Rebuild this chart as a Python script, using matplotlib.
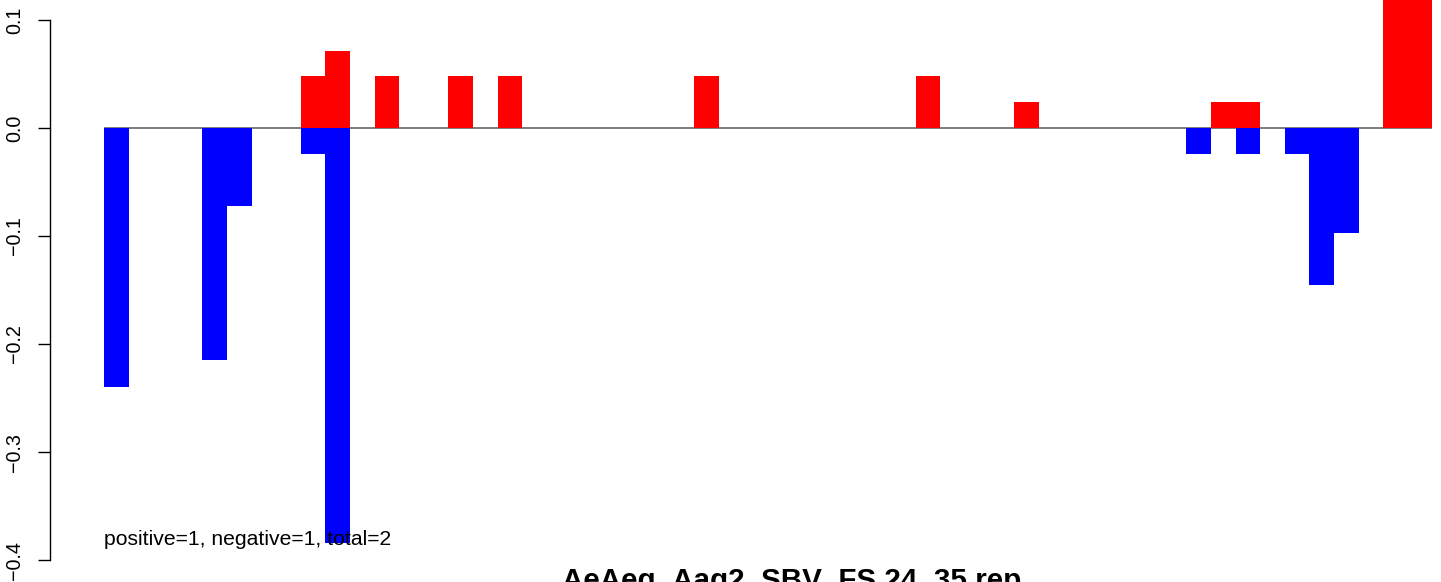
import matplotlib
matplotlib.use("Agg")
import matplotlib.pyplot as plt

plt.rcParams['font.family'] = ['Liberation Sans', 'DejaVu Sans']

# one entry per bar, left to right (bar width 1, no gaps)
pos_vals = [0, 0, 0, 0, 0, 0, 0, 0, 0.048, 0.071,
            0, 0.048, 0, 0, 0.048, 0, 0.048, 0, 0, 0,
            0, 0, 0, 0, 0.048, 0, 0, 0, 0, 0,
            0, 0, 0, 0.048, 0, 0, 0, 0.024, 0, 0,
            0, 0, 0, 0, 0, 0.024, 0.024, 0, 0, 0,
            0, 0, 0.15, 0.15]
neg_vals = [-0.240, 0, 0, 0, -0.215, -0.072, 0, 0, -0.024, -0.384,
            0, 0, 0, 0, 0, 0, 0, 0, 0, 0,
            0, 0, 0, 0, 0, 0, 0, 0, 0, 0,
            0, 0, 0, 0, 0, 0, 0, 0, 0, 0,
            0, 0, 0, 0, -0.024, 0, -0.024, 0, -0.024, -0.145,
            -0.097, 0, 0, 0]
y_ticks = [0.1, 0.0, -0.1, -0.2, -0.3, -0.4]
y_ticklabels = ["0.1", "0.0", "\u22120.1", "\u22120.2", "\u22120.3", "\u22120.4"]
title = "AeAeg_Aag2_SBV_FS 24_35 rep"
note = "positive=1, negative=1, total=2"

n = len(pos_vals)
xs = list(range(n))

fig = plt.figure(figsize=(14.41, 5.82), dpi=100)
ax = fig.add_axes([0, 0, 1, 1])
ax.set_xlim(-104 / 24.6, (1441 - 104) / 24.6)
ax.set_ylim(-454 / 1080, 128 / 1080)

ax.hlines(0, 0, n, color='#666666', lw=1.2, zorder=1)
ax.bar(xs, pos_vals, width=1, align='edge', color='red', lw=0, zorder=2)
ax.bar(xs, neg_vals, width=1, align='edge', color='blue', lw=0, zorder=2)

ax.text(0, -0.386, note, fontsize=15.2, va='baseline', ha='left', zorder=3)

for s in ['top', 'right', 'bottom']:
    ax.spines[s].set_visible(False)
ax.spines['left'].set_position(('data', (50 - 104) / 24.6))
ax.spines['left'].set_bounds(-0.4, 0.1)
ax.spines['left'].set_linewidth(1.0)
ax.set_xticks([])
ax.set_yticks(y_ticks)
ax.set_yticklabels(y_ticklabels, rotation=90, va='center', fontsize=14.2)
ax.tick_params(axis='y', length=8.6, width=1.0, pad=10)

fig.text(792 / 1441, (582 - 589) / 582, title, fontsize=21.3, fontweight='bold',
         ha='center', va='baseline')

fig.savefig("out.png", dpi=100)
